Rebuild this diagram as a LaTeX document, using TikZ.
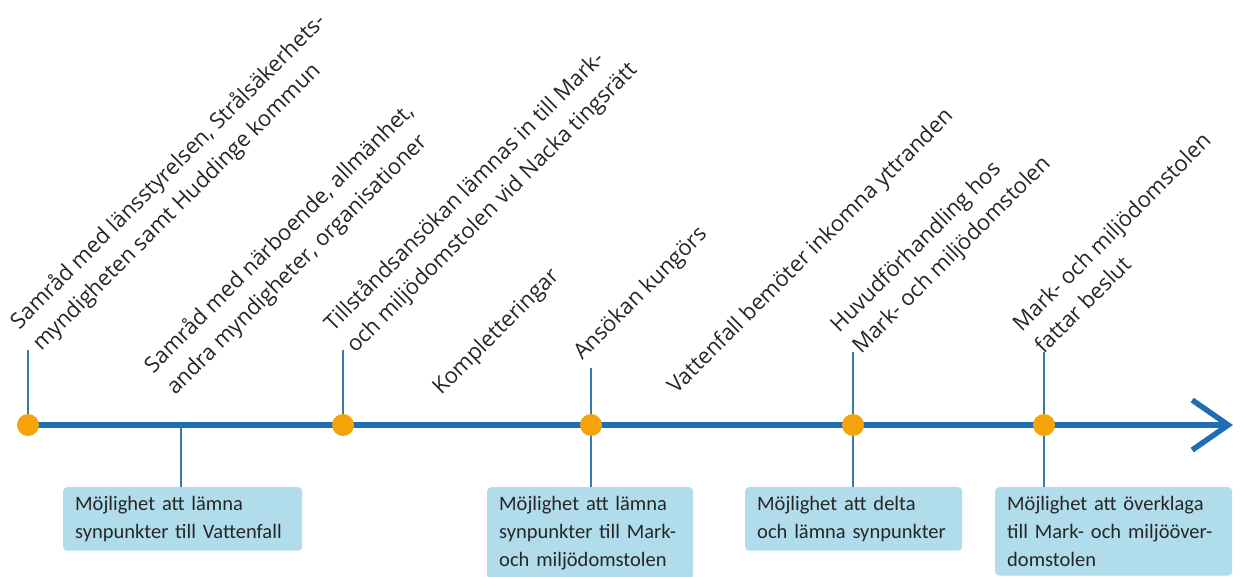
\documentclass[tikz,border=0pt]{standalone}
\usepackage{fontspec}
\newfontfamily\stagefont{Open Sans}
\newfontfamily\boxfont{Carlito}
\usetikzlibrary{arrows.meta,positioning}

\definecolor{lineblue}{HTML}{1F6DB5}
\definecolor{tickblue}{HTML}{3A78AE}
\definecolor{dotorange}{HTML}{F5A30A}
\definecolor{boxblue}{HTML}{B1DCEC}
\definecolor{txtgray}{HTML}{262626}

\tikzset{
  timeline/.style={lineblue, line width=5.5pt, -{Straight Barb[length=36pt,width=50pt]}},
  event/.style={circle, fill=dotorange, minimum size=22pt, inner sep=0pt},
  stage/.style={anchor=south west, rotate=45, align=left, inner sep=0pt,
    text=txtgray, font=\stagefont\fontsize{22}{31}\selectfont},
  chance/.style={anchor=north west, fill=boxblue, rounded corners=4pt, align=left,
    text=txtgray, font=\boxfont\fontsize{20.5}{28}\selectfont,
    inner xsep=12pt, inner ysep=9pt},
  tick/.style={tickblue, line width=1.6pt},
}

\begin{document}
\begin{tikzpicture}[x=1pt, y=-1pt]
  \useasboundingbox (0,0) rectangle (1244,576);

  % Timeline
  \coordinate (start) at (28,425);
  \coordinate (tip) at (1233,425);
  \coordinate (m1) at (181,425);
  \draw[timeline] (start) -- (tip);

  % Events on the line
  \node[event] (e1) at (28,425) {};
  \node[event] (e2) at (343,425) {};
  \node[event] (e3) at (591,425) {};
  \node[event] (e4) at (853,425) {};
  \node[event] (e5) at (1044,425) {};

  % Tick tops
  \coordinate (t1) at (28,350);
  \coordinate (t2) at (343,350);
  \coordinate (t3) at (591,368);
  \coordinate (t4) at (853,352);
  \coordinate (t5) at (1044,352);

  % Stages above the line
  \node[stage] (s1) at (45,356) {Samråd med länsstyrelsen, Strålsäkerhets-\\myndigheten samt Huddinge kommun};
  \node[stage] (s2) at (179,400) {Samråd med närboende, allmänhet,\\andra myndigheter, organisationer};
  \node[stage] (s3) at (359,358) {Tillståndsansökan lämnas in till Mark-\\och miljödomstolen vid Nacka tingsrätt};
  \node[stage] (s4) at (445,400) {Kompletteringar};
  \node[stage] (s5) at (586,365) {Ansökan kungörs};
  \node[stage] (s6) at (680,399) {Vattenfall bemöter inkomna yttranden};
  \node[stage] (s7) at (865,359) {Huvudförhandling hos\\Mark- och miljödomstolen};
  \node[stage] (s8) at (1044,355) {Mark- och miljödomstolen\\fattar beslut};

  % Chances to take part
  \node[chance, text width=215pt] (b1) at (63,487) {Möjlighet att lämna\\synpunkter till Vattenfall};
  \node[chance, text width=182pt] (b2) at (487,487) {Möjlighet att lämna\\synpunkter till Mark-\\och miljödomstolen};
  \node[chance, text width=193pt] (b3) at (745,487) {Möjlighet att delta\\och lämna synpunkter};
  \node[chance, text width=213pt] (b4) at (995,487) {Möjlighet att överklaga\\till Mark- och miljööver-\\domstolen};

  % Ticks
  \draw[tick] (t1) -- (e1);
  \draw[tick] (t2) -- (e2);
  \draw[tick] (t3) -- (e3);
  \draw[tick] (t4) -- (e4);
  \draw[tick] (t5) -- (e5);
  \draw[tick] (m1) -- (m1 |- b1.north);
  \draw[tick] (e3) -- (e3 |- b2.north);
  \draw[tick] (e4) -- (e4 |- b3.north);
  \draw[tick] (e5) -- (e5 |- b4.north);
\end{tikzpicture}
\end{document}
